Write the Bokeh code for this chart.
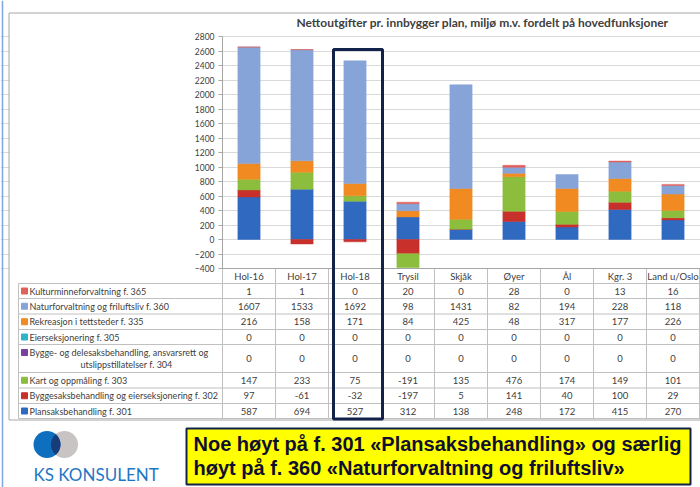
import numpy as np
from bokeh.plotting import figure
from bokeh.models import Range1d, LinearAxis, FixedTicker, Grid
from bokeh.embed import file_html
from bokeh.resources import INLINE
from bokeh.core.properties import value

# ---------------- data ----------------
categories = ["Hol-16", "Hol-17", "Hol-18", "Trysil", "Skjåk", "Øyer", "Ål", "Kgr. 3", "Land u/Oslo"]

kulturminne = [1, 1, 0, 20, 0, 28, 0, 13, 16]
naturforvaltning = [1607, 1533, 1692, 98, 1431, 82, 194, 228, 118]
rekreasjon = [216, 158, 171, 84, 425, 48, 317, 177, 226]
eierseksjonering = [0, 0, 0, 0, 0, 0, 0, 0, 0]
bygge_dele = [0, 0, 0, 0, 0, 0, 0, 0, 0]
kart = [147, 233, 75, -191, 135, 476, 174, 149, 101]
byggesak = [97, -61, -32, -197, 5, 141, 40, 100, 29]
plansak = [587, 694, 527, 312, 138, 248, 172, 415, 270]

# table order (top to bottom)
row_labels = [
    "Kulturminneforvaltning f. 365",
    "Naturforvaltning og friluftsliv f. 360",
    "Rekreasjon i tettsteder f. 335",
    "Eierseksjonering f. 305",
    "Bygge- og delesaksbehandling, ansvarsrett og|utslippstillatelser f. 304",
    "Kart og oppmåling f. 303",
    "Byggesaksbehandling og eierseksjonering f. 302",
    "Plansaksbehandling f. 301",
]
row_values = [kulturminne, naturforvaltning, rekreasjon, eierseksjonering,
              bygge_dele, kart, byggesak, plansak]
row_colors = ["#e0605a", "#87a4d8", "#f18a21", "#2eb3c8",
              "#7b3fa0", "#8cbd3d", "#c8302c", "#3069c0"]

y_ticks = list(range(-400, 2801, 200))
chart_title = "Nettoutgifter pr. innbygger plan, miljø m.v. fordelt på hovedfunksjoner"
note_lines = ["Noe høyt på f. 301 «Plansaksbehandling» og særlig",
              "høyt på f. 360 «Naturforvaltning og friluftsliv»"]
brand = "KS KONSULENT"

# ---------------- layout constants (page pixels) ----------------
W, H = 700, 487
OFF = 0
PX0 = 222          # left edge of plot area
COLW = 53          # width of one category column
Y_TOP, Y_BOT = 36, 268   # pixel rows of 2800 and -400
VMIN, VMAX = -400, 2800
k = (Y_BOT - Y_TOP) / (VMAX - VMIN)


def v_at(py):
    return VMAX - (py - Y_TOP) / k


p = figure(width=W, height=H, output_backend="svg", toolbar_location=None,
           x_range=Range1d((OFF - PX0) / COLW, (OFF + W - PX0) / COLW),
           y_range=Range1d(v_at(OFF + H), v_at(OFF)),
           x_axis_type=None, y_axis_type=None, min_border=0,
           outline_line_color=None, background_fill_color="white",
           border_fill_color="white")
p.extra_x_ranges = {"px": Range1d(OFF, OFF + W)}
p.extra_y_ranges = {"py": Range1d(OFF + H, OFF)}

FONT = value("Lato")
TXT = "#404040"
GRID = "#d9d9d9"
LINE = "#c0c0c0"
NAVY = "#13224a"
FS = value("9px")

ticker = FixedTicker(ticks=y_ticks)
p.center.append(Grid(dimension=1, ticker=ticker, grid_line_color=GRID, grid_line_width=1))

# mask grid left of the axis
p.quad(left=[9], right=[PX0 - 0.5], top=[Y_TOP - 6], bottom=[Y_BOT + 6],
       fill_color="white", line_color=None, x_range_name="px", y_range_name="py")

yaxis = LinearAxis(ticker=ticker, fixed_location=0, bounds=(VMIN, VMAX),
                   axis_line_color="#a6a6a6", major_tick_line_color="#a6a6a6",
                   major_tick_out=4, major_tick_in=0, minor_tick_out=0, minor_tick_in=0,
                   major_label_text_font="Lato", major_label_text_font_size="8.5px",
                   major_label_text_color=TXT, major_label_standoff=4)
p.add_layout(yaxis, "left")

# ---------------- stacked bars ----------------
xs = np.arange(len(categories)) + 0.5
stack_order = list(range(len(row_values)))[::-1]   # bottom -> top
pos = np.zeros(len(categories))
neg = np.zeros(len(categories))
for si in stack_order:
    v = np.array(row_values[si], dtype=float)
    bottom = np.where(v >= 0, pos, neg)
    top = bottom + v
    pos = pos + np.clip(v, 0, None)
    neg = neg + np.clip(v, None, 0)
    m = v != 0
    if m.any():
        p.vbar(x=xs[m], width=0.42, bottom=bottom[m], top=top[m],
               fill_color=row_colors[si], line_color=row_colors[si], line_width=0.5)

# ---------------- slide edge / chart box / title ----------------
p.segment(x0=[2], y0=[0], x1=[2], y1=[H], line_color="#7fa7d9", line_width=1.5,
          x_range_name="px", y_range_name="py")
p.segment(x0=[8.5, 8.5, 8.5], y0=[12.5, 12.5, 419.5], x1=[W, 8.5, W], y1=[12.5, 419.5, 419.5],
          line_color="#a6a6a6", line_width=1, x_range_name="px", y_range_name="py")
p.text(x=[482], y=[22], text=[chart_title], text_font=FONT, text_font_size=value("12px"),
       text_font_style="bold", text_color=TXT, text_align="center", text_baseline="middle",
       x_range_name="px", y_range_name="py")

# ---------------- data table ----------------
row_bounds = [283, 298, 313.5, 329, 344, 372, 387.5, 403, 418]
row_centers = [(a + b) / 2 for a, b in zip(row_bounds[:-1], row_bounds[1:])]
TBL_L = 18

col_edges = np.arange(0, len(categories) + 1)
p.segment(x0=col_edges, y0=[Y_BOT] * len(col_edges), x1=col_edges, y1=[row_bounds[-1]] * len(col_edges),
          line_color=LINE, line_width=1, y_range_name="py")
p.segment(x0=[TBL_L], y0=[row_bounds[0]], x1=[TBL_L], y1=[row_bounds[-1]],
          line_color=LINE, line_width=1, x_range_name="px", y_range_name="py")
p.segment(x0=[TBL_L] * len(row_bounds), y0=row_bounds, x1=[W] * len(row_bounds), y1=row_bounds,
          line_color=LINE, line_width=1, x_range_name="px", y_range_name="py")
p.segment(x0=[PX0], y0=[Y_BOT], x1=[W], y1=[Y_BOT],
          line_color="#a6a6a6", line_width=1, x_range_name="px", y_range_name="py")

# header (category labels)
p.text(x=xs, y=[276] * len(categories), text=categories, text_font=FONT,
       text_font_size=value("9.5px"), text_color=TXT, text_align="center",
       text_baseline="middle", y_range_name="py")

# values
for r, vals in enumerate(row_values):
    p.text(x=xs, y=[row_centers[r]] * len(vals), text=[str(v) for v in vals], text_font=FONT,
           text_font_size=value("9.5px"), text_color=TXT, text_align="center",
           text_baseline="middle", y_range_name="py")

# row labels + keys
for r, lab in enumerate(row_labels):
    parts = lab.split("|")
    if len(parts) == 1:
        ky = row_centers[r]
        p.text(x=[29], y=[ky], text=[parts[0]], text_font=FONT, text_font_size=FS,
               text_color=TXT, text_align="left", text_baseline="middle",
               x_range_name="px", y_range_name="py")
    else:
        ky = row_centers[r] - 6
        p.text(x=[29], y=[ky], text=[parts[0]], text_font=FONT, text_font_size=FS,
               text_color=TXT, text_align="left", text_baseline="middle",
               x_range_name="px", y_range_name="py")
        p.text(x=[126], y=[ky + 11.5], text=[parts[1]], text_font=FONT, text_font_size=FS,
               text_color=TXT, text_align="center", text_baseline="middle",
               x_range_name="px", y_range_name="py")
    p.scatter(x=[24], y=[ky], marker="square", size=6, fill_color=row_colors[r],
              line_color=row_colors[r], x_range_name="px", y_range_name="py")

# highlight box around Hol-18
p.quad(left=[333], right=[382], top=[49], bottom=[418.5], fill_color=None,
       line_color=NAVY, line_width=3, x_range_name="px", y_range_name="py")

# ---------------- logo ----------------
cb, cg, cy, r = 46.5, 64.0, 444.0, 13.5
p.circle(x=[cg], y=[cy], radius=r, fill_color="#c9c4c4", line_color=None,
         x_range_name="px", y_range_name="py")
p.circle(x=[cb], y=[cy], radius=r, fill_color="#0e6fbe", line_color=None,
         x_range_name="px", y_range_name="py")
d = cg - cb
a = d / 2
h = np.sqrt(r * r - a * a)
th = np.arcsin(h / r)
t1 = np.linspace(-th, th, 30)
lens_x = np.concatenate([cb + r * np.cos(t1), cg - r * np.cos(t1[::-1])])
lens_y = np.concatenate([cy + r * np.sin(t1), cy + r * np.sin(t1[::-1])])
p.patch(x=lens_x, y=lens_y, fill_color="#173c7a", line_color=None,
        x_range_name="px", y_range_name="py")
p.text(x=[33], y=[473.5], text=[brand], text_font=FONT, text_font_size=value("17px"),
       text_color="#1f77c4", text_align="left", text_baseline="middle",
       x_range_name="px", y_range_name="py")

# ---------------- note box ----------------
p.quad(left=[186], right=[690], top=[428], bottom=[484], fill_color="#ffff00",
       line_color=NAVY, line_width=2, x_range_name="px", y_range_name="py")
p.text(x=[193, 193], y=[443, 467], text=note_lines, text_font=value("Liberation Sans"),
       text_font_size=value("20px"), text_font_style="bold", text_color="#10102e",
       text_align="left", text_baseline="middle", x_range_name="px", y_range_name="py")

open("out.html", "w").write(file_html(p, INLINE))
